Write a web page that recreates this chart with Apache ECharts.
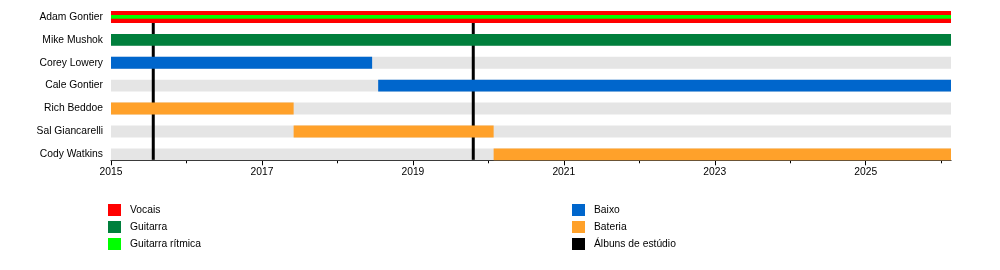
<!DOCTYPE html>
<html><head><meta charset="utf-8">
<script src="https://cdn.jsdelivr.net/npm/echarts@6/dist/echarts.min.js"></script>
<style>html,body{margin:0;padding:0;background:#fff}#c{width:1000px;height:270px}</style>
</head><body><div id="c"></div>
<script>
const members = ['Adam Gontier','Mike Mushok','Corey Lowery','Cale Gontier','Rich Beddoe','Sal Giancarelli','Cody Watkins'];
const startYear = 2015;
const endYear = 2026.13;
// [start, end, row]
const vocals = [[2015, 2026.13, 0]];
const rhythmGuitar = [[2015, 2026.13, 0]];
const guitar = [[2015, 2026.13, 1]];
const bass = [[2015, 2018.46, 2], [2018.54, 2026.13, 3]];
const drums = [[2015, 2017.42, 4], [2017.42, 2020.07, 5], [2020.07, 2026.13, 6]];
const albums = [2015.56, 2019.80];
const xTickLabels = [2015, 2017, 2019, 2021, 2023, 2025];
const xMinorTicks = [2016, 2018, 2020, 2022, 2024, 2026];

const FONT = "'Liberation Sans', Arial, sans-serif";
const FS = 10.3;
const bg = members.map((m, i) => [startYear, endYear, i]);

function barRender(frac) {
  return function (params, api) {
    const s = api.coord([api.value(0), api.value(2)]);
    const e = api.coord([api.value(1), api.value(2)]);
    const h = api.size([0, 1])[1] * frac;
    return { type: 'rect', shape: { x: s[0], y: s[1] - h / 2, width: e[0] - s[0], height: h },
      style: { fill: api.visual('color') } };
  };
}
function albumRender(params, api) {
  const band = api.size([0, 1])[1];
  const t = api.coord([api.value(0), 0]);
  const b = api.coord([api.value(0), members.length - 1]);
  return { type: 'line', shape: { x1: t[0], y1: t[1] - band * 0.26, x2: b[0], y2: b[1] + band * 0.24 },
    style: { stroke: api.visual('color'), lineWidth: 3 } };
}
const enc = { x: [0, 1], y: 2 };
const baseX = {
  type: 'value', min: startYear, max: endYear, offset: -5.5,
  splitLine: { show: false }
};
const option = {
  animation: false,
  textStyle: { fontFamily: FONT },
  grid: { left: 111, right: 49, top: 5.5, bottom: 104.2 },
  xAxis: [
    Object.assign({}, baseX, {
      axisLine: { show: true, lineStyle: { color: '#000', width: 1 } },
      axisTick: { show: true, length: 5, customValues: xTickLabels, lineStyle: { color: '#000', width: 1 } },
      axisLabel: { color: '#000', fontSize: FS, margin: 7, fontFamily: FONT, customValues: xTickLabels,
        formatter: v => String(Math.round(v)) }
    }),
    Object.assign({}, baseX, {
      position: 'bottom',
      axisLine: { show: false },
      axisTick: { show: true, length: 3, customValues: xMinorTicks, lineStyle: { color: '#000', width: 1 } },
      axisLabel: { show: false }
    })
  ],
  yAxis: {
    type: 'category', data: members, inverse: true,
    axisLine: { show: false }, axisTick: { show: false }, splitLine: { show: false },
    axisLabel: { color: '#000', fontSize: FS, margin: 8, fontFamily: FONT }
  },
  legend: [
    { data: ['Vocais', 'Guitarra', 'Guitarra rítmica'], orient: 'vertical', left: 108, top: 204, padding: 0,
      icon: 'rect', itemWidth: 13, itemHeight: 12, itemGap: 5, selectedMode: false,
      textStyle: { fontSize: FS, color: '#000', fontFamily: FONT, padding: [0, 0, 0, 4] } },
    { data: ['Baixo', 'Bateria', 'Álbuns de estúdio'], orient: 'vertical', left: 572, top: 204, padding: 0,
      icon: 'rect', itemWidth: 13, itemHeight: 12, itemGap: 5, selectedMode: false,
      textStyle: { fontSize: FS, color: '#000', fontFamily: FONT, padding: [0, 0, 0, 4] } }
  ],
  series: [
    { type: 'custom', name: 'bg', data: bg, encode: enc, renderItem: barRender(0.52), itemStyle: { color: '#e5e5e5' }, z: 1, silent: true },
    { type: 'custom', name: 'Álbuns de estúdio', data: albums.map(a => [a]), encode: { x: 0 }, renderItem: albumRender, itemStyle: { color: '#000' }, z: 2 },
    { type: 'custom', name: 'Vocais', data: vocals, encode: enc, renderItem: barRender(0.52), itemStyle: { color: '#ff0000' }, z: 3 },
    { type: 'custom', name: 'Guitarra rítmica', data: rhythmGuitar, encode: enc, renderItem: barRender(0.16), itemStyle: { color: '#00ff00' }, z: 4 },
    { type: 'custom', name: 'Guitarra', data: guitar, encode: enc, renderItem: barRender(0.52), itemStyle: { color: '#007f3c' }, z: 3 },
    { type: 'custom', name: 'Baixo', data: bass, encode: enc, renderItem: barRender(0.52), itemStyle: { color: '#0066cc' }, z: 3 },
    { type: 'custom', name: 'Bateria', data: drums, encode: enc, renderItem: barRender(0.52), itemStyle: { color: '#ffa12a' }, z: 3 }
  ]
};
echarts.init(document.getElementById('c'), null, { renderer: 'canvas' }).setOption(option);
</script></body></html>
